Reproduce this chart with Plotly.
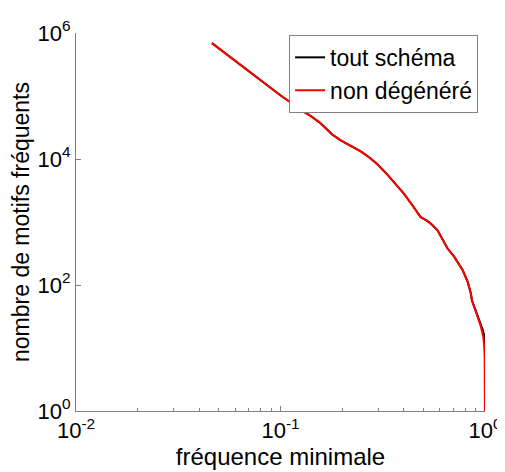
import plotly.graph_objects as go

# minimum frequency (x) vs number of frequent patterns (y)
freq_all = [0.0462, 0.0555, 0.0657, 0.0768, 0.089, 0.101, 0.114, 0.127, 0.142,
            0.157, 0.168, 0.179, 0.197, 0.217, 0.247, 0.273, 0.297, 0.334,
            0.364, 0.402, 0.445, 0.485, 0.52, 0.543, 0.586, 0.621, 0.656,
            0.708, 0.745, 0.778, 0.823, 0.853, 0.863, 0.887, 0.921, 0.945,
            0.972, 0.99, 0.998, 1.0]
count_all = [6.9e5, 4.4e5, 2.9e5, 1.93e5, 1.38e5, 1.0e5, 7.6e4, 5.9e4, 4.7e4,
             3.7e4, 3.0e4, 2.45e4, 1.98e4, 1.65e4, 1.32e4, 1.05e4, 8.3e3, 5.6e3,
             4.0e3, 2.8e3, 1.78e3, 1.19e3, 1.05e3, 944, 738, 513, 379,
             279, 215, 171, 112, 73, 57, 45, 32, 25,
             20, 16, 11.8, 1]

freq_nondeg = [0.0462, 0.0555, 0.0657, 0.0768, 0.089, 0.101, 0.114, 0.127, 0.142,
               0.157, 0.168, 0.179, 0.197, 0.217, 0.247, 0.273, 0.297, 0.334,
               0.364, 0.402, 0.445, 0.485, 0.52, 0.543, 0.586, 0.621, 0.656,
               0.708, 0.745, 0.778, 0.823, 0.853, 0.863, 0.887, 0.921, 0.955,
               0.981, 0.992, 0.998, 1.0]
count_nondeg = [6.9e5, 4.4e5, 2.9e5, 1.93e5, 1.38e5, 1.0e5, 7.6e4, 5.9e4, 4.7e4,
                3.7e4, 3.0e4, 2.45e4, 1.98e4, 1.65e4, 1.32e4, 1.05e4, 8.3e3, 5.6e3,
                4.0e3, 2.8e3, 1.78e3, 1.19e3, 1.05e3, 944, 738, 513, 379,
                279, 215, 171, 112, 73, 57, 45, 31, 21.7,
                15, 10.4, 7.3, 1]

x_ticks = [0.01, 0.1, 1]
x_ticktext = ['10<sup>-2</sup>', '10<sup>-1</sup>', '10<sup>0</sup>']
y_ticks = [1, 1e2, 1e4, 1e6]
y_ticktext = ['10<sup>0</sup>', '10<sup>2</sup>', '10<sup>4</sup>', '10<sup>6</sup>']
x_minor = [m * d for d in (0.01, 0.1) for m in range(2, 10)]

FONT = 'Liberation Sans, Arial, sans-serif'
AXIS_GREY = '#808080'

fig = go.Figure()
fig.add_trace(go.Scatter(x=freq_all, y=count_all, mode='lines', name='tout schéma',
                         line=dict(color='black', width=2)))
fig.add_trace(go.Scatter(x=freq_nondeg, y=count_nondeg, mode='lines', name='non dégénéré',
                         line=dict(color='#ff0000', width=2)))

fig.update_xaxes(
    type='log', range=[-2, 0], automargin=False,
    tickmode='array', tickvals=x_ticks, ticktext=x_ticktext,
    tickfont=dict(size=22),
    ticks='inside', ticklen=5, tickcolor=AXIS_GREY,
    minor=dict(tickmode='array', tickvals=x_minor, ticks='inside',
               ticklen=3, tickcolor=AXIS_GREY, showgrid=False),
    showline=True, linecolor=AXIS_GREY, linewidth=1,
    showgrid=False, zeroline=False,
    title=dict(text='fréquence minimale', font=dict(size=24), standoff=4),
)
fig.update_yaxes(
    type='log', range=[0, 6], automargin=False,
    tickmode='array', tickvals=y_ticks, ticktext=y_ticktext,
    tickfont=dict(size=22),
    ticks='inside', ticklen=5, tickcolor=AXIS_GREY,
    showline=True, linecolor=AXIS_GREY, linewidth=1,
    showgrid=False, zeroline=False,
    title=dict(text='nombre de motifs fréquents', font=dict(size=23), standoff=2),
)

# the page body adds an 8px margin, so the figure is 8px smaller on each side
fig.update_layout(
    width=497, height=464,
    margin=dict(l=68, r=20, t=25, b=61),
    plot_bgcolor='white', paper_bgcolor='white',
    font=dict(family=FONT, size=22, color='black'),
    legend=dict(x=0.521, y=0.995, xanchor='left', yanchor='top',
                bgcolor='white', bordercolor=AXIS_GREY, borderwidth=1,
                font=dict(size=23), tracegroupgap=0),
    showlegend=True,
)

fig.write_html('out.html')
